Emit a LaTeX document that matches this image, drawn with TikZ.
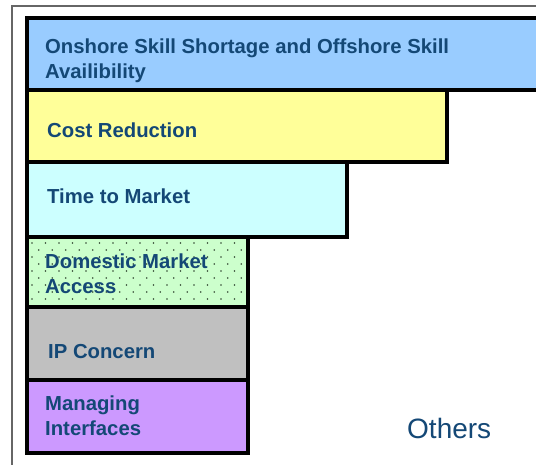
\documentclass[tikz,border=0pt]{standalone}
\usepackage{fontspec}
\setmainfont{Liberation Sans}
\definecolor{txtblue}{RGB}{20,72,118}
\definecolor{cblue}{RGB}{153,204,255}
\definecolor{cyellow}{RGB}{255,255,153}
\definecolor{ccyan}{RGB}{204,255,255}
\definecolor{cgreen}{RGB}{204,255,204}
\definecolor{cgray}{RGB}{192,192,192}
\definecolor{cpurple}{RGB}{204,153,255}
\definecolor{dotc}{RGB}{50,70,50}
\tikzset{
  barbox/.style={draw=black, line width=3.5pt, inner sep=0pt, outer sep=0pt, anchor=north west},
  lbl/.style={anchor=base west, inner sep=0pt, text=txtblue, font=\fontsize{20.3}{25}\selectfont\bfseries, align=left},
  frame/.style={draw=black!60, line width=1.2pt}
}
\begin{document}
\begin{tikzpicture}[x=1pt,y=-1pt]
\useasboundingbox (0,0) rectangle (536,464);
\clip (0,0) rectangle (536,464);
\fill[white] (0,0) rectangle (536,464);
\draw[frame] (12,470) -- (12,6) -- (545,6);
% bars
\node[barbox, fill=cblue, minimum width=530pt, minimum height=72pt] (onshore) at (27,18) {};
\node[barbox, fill=cyellow, minimum width=420pt, minimum height=72pt] (cost) at (27,90) {};
\node[barbox, fill=ccyan, minimum width=320pt, minimum height=75pt] (time) at (27,162) {};
\node[barbox, fill=cgreen, minimum width=221pt, minimum height=70pt] (domestic) at (27,237) {};
\node[barbox, fill=cgray, minimum width=221pt, minimum height=73pt] (ip) at (27,307) {};
\node[barbox, fill=cpurple, minimum width=221pt, minimum height=73pt] (managing) at (27,380) {};
% dots in green box
\foreach \r in {0,...,8}{
  \pgfmathsetmacro{\yy}{243+7*\r}
  \pgfmathsetmacro{\off}{mod(\r,2)*6.75}
  \foreach \c in {0,...,15}{
    \pgfmathsetmacro{\xx}{32+\off+13.5*\c}
    \ifdim \xx pt<245pt
      \fill[dotc] (\xx,\yy) circle (0.9pt);
    \fi
  }
}
% redraw the green box border over the dots
\draw[line width=3.5pt] (domestic.north west) rectangle (domestic.south east);
% labels (base anchor = last line)
\node[lbl] (t1) at (45,78) {Onshore Skill Shortage and Offshore Skill\\Availibility};
\node[lbl] (t2) at (47,137) {Cost Reduction};
\node[lbl] (t3) at (47,203) {Time to Market};
\node[lbl] (t4) at (45,293) {Domestic Market\\Access};
\node[lbl] (t5) at (48,358) {IP Concern};
\node[lbl] (t6) at (45,435) {Managing\\Interfaces};
\node[anchor=base west, inner sep=0pt, text=txtblue, font=\fontsize{28}{30}\selectfont] (others) at (407,438) {Others};
\end{tikzpicture}
\end{document}
